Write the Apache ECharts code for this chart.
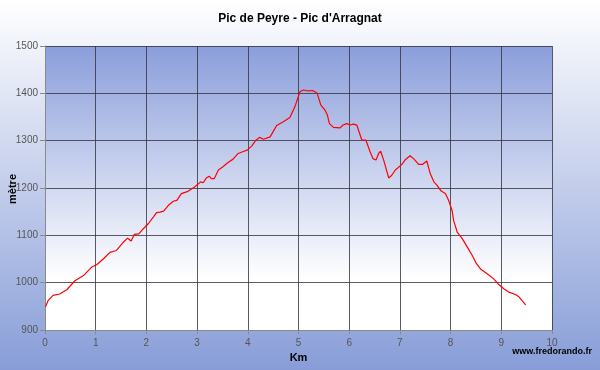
<!DOCTYPE html>
<html><head><meta charset="utf-8">
<script src="https://cdn.jsdelivr.net/npm/echarts@6/dist/echarts.min.js"></script>
<style>html,body{margin:0;padding:0;}#c{width:600px;height:370px;}</style>
</head><body><div id="c"></div>
<script>
const distKm = [0.01,0.06,0.16,0.29,0.43,0.59,0.76,0.92,1.02,1.15,1.28,1.41,1.55,1.63,1.70,1.76,1.85,1.94,2.04,2.14,2.20,2.27,2.34,2.43,2.53,2.60,2.69,2.82,2.95,3.07,3.12,3.18,3.24,3.28,3.34,3.42,3.51,3.61,3.71,3.81,3.91,3.99,4.08,4.16,4.23,4.31,4.44,4.50,4.57,4.70,4.83,4.93,5.03,5.10,5.19,5.28,5.37,5.44,5.52,5.57,5.61,5.69,5.82,5.88,5.95,6.02,6.08,6.15,6.18,6.25,6.33,6.41,6.47,6.53,6.58,6.62,6.68,6.78,6.84,6.91,7.04,7.10,7.20,7.28,7.37,7.45,7.53,7.60,7.67,7.73,7.81,7.90,7.96,8.03,8.06,8.13,8.23,8.33,8.43,8.51,8.59,8.72,8.85,8.95,9.05,9.15,9.28,9.34,9.41,9.48];
const altitude = [949,962,973,976,985,1004,1015,1033,1038,1050,1064,1068,1086,1094,1088,1102,1103,1114,1125,1139,1148,1149,1151,1163,1172,1174,1188,1193,1202,1213,1211,1221,1225,1220,1220,1238,1245,1254,1261,1273,1277,1280,1289,1301,1307,1303,1308,1319,1332,1340,1349,1372,1404,1407,1405,1406,1400,1375,1365,1354,1336,1328,1327,1333,1336,1333,1335,1333,1333,1301,1301,1277,1262,1259,1273,1278,1259,1221,1227,1238,1250,1259,1268,1261,1250,1250,1257,1230,1213,1206,1194,1188,1174,1152,1131,1107,1093,1075,1057,1040,1029,1019,1008,996,987,980,975,971,962,953];
const titleText = "Pic de Peyre - Pic d'Arragnat";
const yName = "mètre";
const xName = "Km";
const credit = "www.fredorando.fr";

const chart = echarts.init(document.getElementById('c'), null, {renderer:'canvas'});
const gridColor = 'rgba(50,50,60,0.8)';
chart.setOption({
  animation:false,
  backgroundColor:{type:'linear',x:0,y:0,x2:0,y2:1,colorStops:[{offset:0,color:'#ffffff'},{offset:1,color:'#889dd8'}]},
  title:{text:titleText,left:'center',top:8,textStyle:{fontFamily:'Liberation Sans',fontSize:12,fontWeight:'bold',color:'#000'}},
  graphic:[
    {type:'text',left:7,top:174,rotation:Math.PI/2,style:{text:yName,font:'bold 11px Liberation Sans',fill:'#000'}},
    {type:'text',right:8,top:347,style:{text:credit,font:'bold 9px Liberation Sans',fill:'#000'}}
  ],
  grid:{left:45,right:48,top:46,bottom:40,show:true,borderWidth:0,
    backgroundColor:{type:'linear',x:0,y:0,x2:0,y2:1,colorStops:[{offset:0,color:'#8b9edb'},{offset:0.82,color:'#ffffff'},{offset:1,color:'#ffffff'}]}},
  xAxis:{type:'value',min:0,max:10,interval:1,name:xName,nameLocation:'middle',nameGap:22,
    nameTextStyle:{fontFamily:'Liberation Sans',fontSize:11,fontWeight:'bold',color:'#000'},
    axisLine:{show:true,lineStyle:{color:'#8a8a8a'}},axisTick:{show:true,length:4,lineStyle:{color:'#8a8a8a'}},
    axisLabel:{fontFamily:'Liberation Sans',fontSize:10,color:'#555',margin:8},
    splitLine:{show:true,lineStyle:{color:gridColor,width:1}}},
  yAxis:{type:'value',min:900,max:1500,interval:100,
    axisLine:{show:true,lineStyle:{color:'#8a8a8a'}},axisTick:{show:true,length:5,lineStyle:{color:'#8a8a8a'}},
    axisLabel:{fontFamily:'Liberation Sans',fontSize:10,color:'#555',margin:7,formatter:v=>String(v)},
    splitLine:{show:true,lineStyle:{color:gridColor,width:1}}},
  series:[{type:'line',data:distKm.map((d,i)=>[d,altitude[i]]),showSymbol:false,smooth:false,
    lineStyle:{color:'#ff0000',width:1.2},itemStyle:{color:'#ff0000'}}]
});
</script></body></html>
